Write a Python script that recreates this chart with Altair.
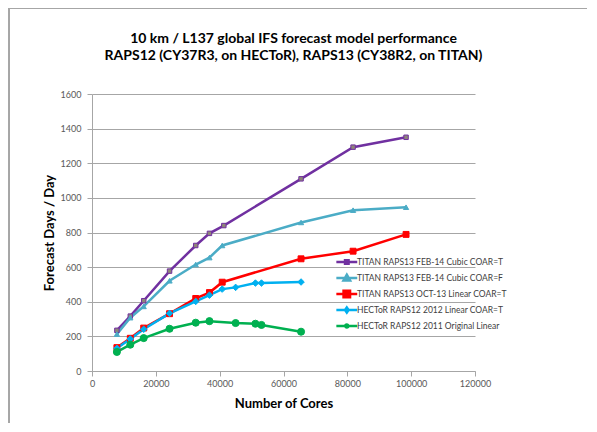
import altair as alt
import pandas as pd

# ---- data ----
series_names = [
    "TITAN RAPS13 FEB-14 Cubic COAR=T",
    "TITAN RAPS13  FEB-14 Cubic COAR=F",
    "TITAN RAPS13 OCT-13 Linear COAR=T",
    "HECToR RAPS12 2012 Linear COAR=T",
    "HECToR RAPS12 2011 Original Linear",
]

titan_cubic_t_cores = [7800, 12000, 16200, 24300, 32500, 36800, 41300, 65500, 81800, 98400]
titan_cubic_t_fdd = [235, 317, 406, 577, 725, 795, 840, 1110, 1293, 1350]

titan_cubic_f_cores = [7800, 12000, 16200, 24300, 32500, 36800, 40800, 65500, 81800, 98400]
titan_cubic_f_fdd = [213, 308, 373, 521, 615, 655, 725, 858, 929, 946]

titan_linear_cores = [7800, 12000, 16200, 24300, 32500, 36800, 40800, 65500, 81800, 98400]
titan_linear_fdd = [135, 189, 248, 331, 419, 453, 513, 648, 692, 789]

hector_2012_cores = [7800, 12000, 16200, 24300, 32500, 36800, 40800, 45000, 51200, 53100, 65500]
hector_2012_fdd = [131, 185, 241, 333, 402, 438, 473, 483, 508, 508, 514]

hector_2011_cores = [7800, 12000, 16200, 24300, 32500, 36800, 45000, 51200, 53100, 65500]
hector_2011_fdd = [110, 152, 190, 244, 279, 288, 277, 273, 266, 227]

x_ticks = [0, 20000, 40000, 60000, 80000, 100000, 120000]
y_ticks = [0, 200, 400, 600, 800, 1000, 1200, 1400, 1600]

# ---- styling ----
line_colors = ["#7030A0", "#4BACC6", "#FF0000", "#00B0F0", "#00B050"]
marker_fills = ["#8E8579", "#4BACC6", "#FF0000", "#00B0F0", "#00B050"]
marker_shapes = ["square", "triangle-up", "square", "diamond", "circle"]
marker_sizes = [20, 50, 49, 25, 16]
legend_shapes = [
    "M-2.3,0H1.5M-0.72,-0.32H-0.08V0.32H-0.72Z",
    "M-2.3,0H1.5M-0.4,-0.6L0.2,0.45L-1,0.45Z",
    "M-2.3,0H1.5M-0.99,-0.59H0.19V0.59H-0.99Z",
    "M-2.3,0H1.5M-0.4,-0.45L-0.08,0L-0.4,0.45L-0.72,0Z",
    "M-2.3,0H1.5M-0.67,0A0.27,0.27 0 1,0 -0.13,0A0.27,0.27 0 1,0 -0.67,0Z",
]

all_cores = [titan_cubic_t_cores, titan_cubic_f_cores, titan_linear_cores,
             hector_2012_cores, hector_2011_cores]
all_fdd = [titan_cubic_t_fdd, titan_cubic_f_fdd, titan_linear_fdd,
           hector_2012_fdd, hector_2011_fdd]

rows = []
for name, xs, ys in zip(series_names, all_cores, all_fdd):
    for xv, yv in zip(xs, ys):
        rows.append({"series": name, "cores": xv, "fdd": yv})
df = pd.DataFrame(rows)

FONT = "Lato"
GRID = "#A6A6A6"

x_enc = alt.X("cores:Q",
              scale=alt.Scale(domain=[0, 120000], nice=False),
              axis=alt.Axis(values=x_ticks, format="d", grid=False,
                            title="Number of Cores", titleFont=FONT,
                            titleFontSize=13, titleFontWeight="bold",
                            titleColor="#000000", titleX=191.5, titleY=32,
                            titleBaseline="middle", titleAlign="center",
                            labelFont=FONT, labelFontSize=9, labelColor="#595959",
                            labelPadding=3, tickSize=5, tickColor=GRID,
                            domainColor=GRID, labelFlush=False))
y_enc = alt.Y("fdd:Q",
              scale=alt.Scale(domain=[0, 1600], nice=False),
              axis=alt.Axis(values=y_ticks, format="d", grid=True, gridColor=GRID,
                            title="Forecast Days / Day", titleFont=FONT,
                            titleFontSize=13, titleFontWeight="bold",
                            titleColor="#000000", titleAngle=270,
                            titleX=-43, titleY=138.5, titleAlign="center",
                            titleBaseline="middle",
                            labelFont=FONT, labelFontSize=9, labelColor="#595959",
                            labelPadding=6, tickSize=5, tickColor=GRID,
                            domainColor=GRID))

base = alt.Chart(df)

frame = alt.Chart(df).mark_rule(color=GRID, strokeWidth=1).encode(
    x=alt.value(-83), x2=alt.value(497), y=alt.value(-85.5))
frame_left = alt.Chart(df).mark_rule(color=GRID, strokeWidth=1).encode(
    x=alt.value(-83), y=alt.value(-85.5), y2=alt.value(330))

lines = base.mark_line(strokeWidth=2.5).encode(
    x=x_enc, y=y_enc,
    color=alt.Color("series:N", scale=alt.Scale(domain=series_names, range=line_colors),
                    legend=None),
    detail="series:N",
)

points = base.mark_point(filled=True, strokeWidth=1, opacity=1).encode(
    x=x_enc, y=y_enc,
    fill=alt.Fill("series:N", scale=alt.Scale(domain=series_names, range=marker_fills),
                  legend=None),
    stroke=alt.Stroke("series:N", scale=alt.Scale(domain=series_names, range=line_colors),
                      legend=None),
    shape=alt.Shape("series:N", scale=alt.Scale(domain=series_names, range=marker_shapes),
                    legend=None),
    size=alt.Size("series:N", scale=alt.Scale(domain=series_names, range=marker_sizes),
                  legend=None),
)

leg = alt.Legend(orient="none", legendX=250, legendY=161, title=None,
                 labelFont=FONT, labelFontSize=8.5, labelColor="#404040",
                 labelOffset=1, symbolSize=121, symbolStrokeWidth=2.5,
                 symbolOpacity=1, rowPadding=-3.5, padding=0, labelLimit=300,
                 gridAlign="all")

legend_layer = base.mark_point(filled=True, opacity=0, strokeWidth=2.5).encode(
    x=x_enc, y=y_enc,
    fill=alt.Fill("series:N", scale=alt.Scale(domain=series_names, range=marker_fills),
                  legend=leg),
    stroke=alt.Stroke("series:N", scale=alt.Scale(domain=series_names, range=line_colors),
                      legend=leg),
    shape=alt.Shape("series:N", scale=alt.Scale(domain=series_names, range=legend_shapes),
                    legend=leg),
)

chart = alt.layer(frame, frame_left, lines, points, legend_layer).resolve_scale(
    fill="independent", stroke="independent", shape="independent",
    color="independent", size="independent"
).properties(
    width=383, height=277,
    title=alt.TitleParams(
        text=["10 km / L137 global IFS forecast model performance",
              "RAPS12 (CY37R3, on HECToR), RAPS13 (CY38R2, on TITAN)"],
        font=FONT, fontSize=14, fontWeight="bold", color="#000000",
        anchor="middle", frame="group", dx=10, offset=-69, lineHeight=17,
        baseline="bottom"),
    autosize=alt.AutoSizeParams(type="none"),
    padding={"left": 84, "top": 86, "right": 112, "bottom": 52},
).configure_view(stroke=None)

chart.save("out.html", embed_options={"renderer": "svg", "actions": False})
